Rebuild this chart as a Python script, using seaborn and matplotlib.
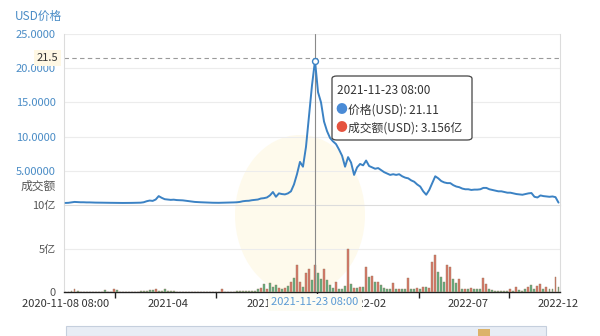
import numpy as np
import pandas as pd
import seaborn as sns
import matplotlib.pyplot as plt
from matplotlib.patches import FancyBboxPatch, Rectangle, Ellipse
from matplotlib.transforms import blended_transform_factory

# ---------------- data ----------------
price = [0.30, 0.32, 0.38, 0.45, 0.42, 0.40, 0.40, 0.38, 0.38, 0.36,
         0.35, 0.35, 0.34, 0.33, 0.33, 0.32, 0.32, 0.31, 0.30, 0.30,
         0.30, 0.30, 0.31, 0.32, 0.33, 0.34, 0.40, 0.55, 0.65, 0.60,
         0.80, 1.30, 1.05, 0.85, 0.80, 0.75, 0.78, 0.72, 0.70, 0.68,
         0.62, 0.55, 0.50, 0.45, 0.42, 0.40, 0.38, 0.36, 0.34, 0.33,
         0.32, 0.32, 0.33, 0.34, 0.35, 0.36, 0.38, 0.40, 0.45, 0.55,
         0.60, 0.62, 0.70, 0.75, 0.80, 0.95, 1.00, 1.10, 1.40, 1.90,
         1.20, 1.70, 1.60, 1.55, 1.70, 2.00, 3.00, 4.50, 6.30, 5.60,
         8.50, 13.00, 17.50, 21.11, 16.50, 15.00, 12.20, 10.80, 9.80, 9.30,
         8.90, 8.10, 7.20, 5.60, 7.00, 6.20, 4.40, 5.50, 6.00, 5.80,
         6.50, 5.70, 5.50, 5.30, 5.40, 5.10, 4.80, 4.60, 4.40, 4.50,
         4.40, 4.50, 4.20, 4.00, 3.90, 3.60, 3.40, 3.00, 2.70, 2.00,
         1.50, 2.20, 3.20, 4.20, 3.90, 3.50, 3.30, 3.20, 3.20, 2.90,
         2.70, 2.60, 2.40, 2.30, 2.30, 2.20, 2.25, 2.25, 2.30, 2.50,
         2.50, 2.30, 2.20, 2.10, 2.00, 2.00, 1.90, 1.80, 1.80, 1.70,
         1.60, 1.55, 1.50, 1.60, 1.70, 1.75, 1.20, 1.10, 1.40, 1.30,
         1.25, 1.20, 1.25, 1.15, 0.35]

# trading volume, in 亿 USD
volume = [0.05, 0.05, 0.08, 0.30, 0.06, 0.05, 0.05, 0.04, 0.05, 0.04,
          0.04, 0.05, 0.05, 0.20, 0.05, 0.05, 0.30, 0.25, 0.05, 0.04,
          0.04, 0.04, 0.05, 0.05, 0.05, 0.06, 0.08, 0.10, 0.20, 0.25,
          0.30, 0.12, 0.10, 0.30, 0.08, 0.06, 0.06, 0.05, 0.05, 0.05,
          0.05, 0.04, 0.04, 0.04, 0.04, 0.04, 0.04, 0.04, 0.04, 0.04,
          0.04, 0.05, 0.30, 0.05, 0.05, 0.05, 0.05, 0.06, 0.08, 0.10,
          0.10, 0.10, 0.12, 0.15, 0.30, 0.50, 0.90, 0.40, 1.00, 0.60,
          0.80, 0.50, 0.40, 0.50, 0.70, 1.20, 1.60, 3.10, 1.20, 0.60,
          2.20, 2.60, 1.40, 3.156, 2.20, 1.50, 2.60, 1.40, 0.80, 0.50,
          1.10, 0.40, 0.40, 0.70, 4.90, 0.90, 0.50, 0.50, 0.60, 0.55,
          2.90, 1.70, 1.80, 1.10, 1.10, 0.80, 0.50, 0.30, 0.30, 1.00,
          0.40, 0.30, 0.30, 0.40, 1.60, 0.30, 0.30, 0.50, 0.40, 0.60,
          0.60, 0.50, 3.40, 4.30, 2.30, 1.70, 1.20, 3.10, 2.90, 1.50,
          1.00, 1.50, 0.40, 0.30, 0.30, 0.50, 0.30, 0.35, 0.40, 1.60,
          0.90, 0.30, 0.25, 0.15, 0.15, 0.10, 0.10, 0.15, 0.30, 0.15,
          0.60, 0.20, 0.15, 0.30, 0.60, 0.80, 0.40, 0.70, 0.90, 0.30,
          0.60, 0.30, 0.40, 1.70, 0.60]

# bars drawn in the "up" (red) colour
up_bars = [3, 16, 30, 52, 65, 67, 71, 73, 75, 77, 78, 80, 81, 83, 86, 90,
           94, 96, 98, 100, 102, 104, 109, 111, 114, 117, 119, 121, 122, 123,
           127, 128, 131, 133, 135, 139, 140, 148, 150, 154, 157, 158, 160, 163]

x_tick_labels = ["2020-11-08 08:00", "2021-04", "2021-09", "2022-02", "2022-07", "2022-12"]
x_tick_index = [0, 34, 67, 100, 134, 164]
x_mark_index = [16.5, 50.2, 83.8, 117.5, 147.5]

price_ticks = [5, 10, 15, 20, 25]
price_tick_labels = ["5.00000", "10.0000", "15.0000", "20.0000", "25.0000"]
vol_ticks = [0, 5, 10]
vol_tick_labels = ["0", "5亿", "10亿"]

hover_index = 83
hover_date = "2021-11-23 08:00"
hover_price_label = "价格(USD): 21.11"
hover_vol_label = "成交额(USD): 3.156亿"
marker_level = 21.5

# ---------------- style ----------------
sns.set_theme(style="white")
plt.rcParams['font.family'] = ['Noto Sans CJK SC', 'DejaVu Sans']

BLUE = '#3b82c4'
RED = '#ec6a55'
GREEN = '#4fbf80'
GRID = '#ececec'

n = len(price)
df = pd.DataFrame({
    'i': np.arange(n),
    'price': price,
    'vol': volume,
    'dir': ['up' if k in up_bars else 'down' for k in range(n)],
})

fig = plt.figure(figsize=(6, 3.36), dpi=100)
W, H = 600, 336

# very faint watermark behind the plot
fig.patches.append(Ellipse((300 / W, 1 - 215 / H), 130 / W, 160 / H,
                           transform=fig.transFigure, facecolor='#fefaec',
                           edgecolor='none', zorder=-5))

ax1 = fig.add_axes([64 / W, 1 - 205 / H, 496 / W, 171 / H], zorder=2)
ax2 = fig.add_axes([64 / W, 1 - 292 / H, 496 / W, 87 / H], zorder=2)
for a in (ax1, ax2):
    a.set_facecolor('none')

# price panel
sns.lineplot(data=df, x='i', y='price', ax=ax1, color=BLUE, lw=1.4, zorder=3)
ax1.set_xlim(-0.5, n - 0.5)
ax1.set_ylim(0, 25)
ax1.set_yticks(price_ticks)
ax1.set_yticklabels(price_tick_labels)
ax1.tick_params(axis='y', length=0, pad=6, labelsize=8, labelcolor='#4a8cc6')
ax1.set_xticks([])
ax1.set_xlabel('')
ax1.set_ylabel('')
for yv in price_ticks:
    ax1.axhline(yv, color=GRID, lw=0.8, zorder=0)
for s in ['top', 'bottom']:
    ax1.spines[s].set_visible(False)
for s in ['left', 'right']:
    ax1.spines[s].set_color('#dcdcdc')
    ax1.spines[s].set_linewidth(0.8)

# dashed level line + label
ax1.axhline(marker_level, color='#9a9a9a', lw=0.8, ls=(0, (4, 3)), zorder=2)
tr = blended_transform_factory(ax1.transAxes, ax1.transData)
ax1.text(-0.012, marker_level, f"{marker_level}", transform=tr, ha='right',
         va='center', fontsize=8, color='#333333', zorder=6,
         bbox=dict(boxstyle='square,pad=0.25', facecolor='#fff8e4', edgecolor='none'))

# hover marker and pointer line
ax1.axvline(hover_index, color='#8a8a8a', lw=0.8, zorder=2)
ax1.scatter([hover_index], [price[hover_index]], s=18, facecolor='white',
            edgecolor=BLUE, linewidth=1.0, zorder=5)

# volume panel
sns.barplot(data=df, x='i', y='vol', hue='dir', dodge=False,
            palette={'up': RED, 'down': GREEN}, width=0.65, native_scale=True,
            legend=False, ax=ax2, linewidth=0.3, edgecolor='#9a7a60', zorder=3)
ax2.set_xlim(-0.5, n - 0.5)
ax2.set_ylim(0, 10)
ax2.set_yticks(vol_ticks)
ax2.set_yticklabels(vol_tick_labels)
ax2.tick_params(axis='y', length=0, pad=6, labelsize=8, labelcolor='#555555')
ax2.set_xlabel('')
ax2.set_ylabel('')
ax2.axhline(5, color=GRID, lw=0.8, zorder=0)
ax2.axvline(hover_index, color='#8a8a8a', lw=0.8, zorder=4)
ax2.set_xticks(x_tick_index)
ax2.set_xticklabels(x_tick_labels)
ax2.set_xticks(x_mark_index, minor=True)
ax2.tick_params(axis='x', which='major', length=0, pad=5, labelsize=8, labelcolor='#333333')
ax2.tick_params(axis='x', which='minor', length=4, width=1, color='#222222', direction='out', bottom=True)
ax2.spines['bottom'].set_color('#222222')
ax2.spines['bottom'].set_linewidth(1.0)
ax2.spines['top'].set_color('#dcdcdc')
ax2.spines['top'].set_linewidth(0.8)
for s in ['left', 'right']:
    ax2.spines[s].set_color('#dcdcdc')
    ax2.spines[s].set_linewidth(0.8)

# pointer label on x axis (covers part of neighbouring tick labels, as in the source)
trx = blended_transform_factory(ax2.transData, ax2.transAxes)
ax2.text(hover_index, -0.12, hover_date, transform=trx, ha='center', va='center',
         fontsize=8, color='#5b9bd5', zorder=10, clip_on=False,
         bbox=dict(boxstyle='square,pad=0.3', facecolor='#fdfcf4', edgecolor='none'))

# axis names
fig.text(38 / W, 1 - 16 / H, "USD价格", ha='center', va='center', fontsize=8.5, color='#4a8cc6')
fig.text(38 / W, 1 - 186 / H, "成交额", ha='center', va='center', fontsize=8.5, color='#555555')

# tooltip
tip = FancyBboxPatch((332 / W, 1 - 140 / H), 140 / W, 64 / H,
                     boxstyle='round,pad=0,rounding_size=0.008',
                     transform=fig.transFigure, facecolor='white',
                     edgecolor='#444444', linewidth=0.9, zorder=20)
fig.patches.append(tip)
fig.text(337 / W, 1 - 91 / H, hover_date, fontsize=8.5, color='#333333', va='center', zorder=21)
fig.text(341 / W, 1 - 110 / H, "●", fontsize=8.5, color='#4a8bd6', va='center', ha='center', zorder=21)
fig.text(348 / W, 1 - 110 / H, hover_price_label, fontsize=8.5, color='#333333', va='center', zorder=21)
fig.text(341 / W, 1 - 128 / H, "●", fontsize=8.5, color='#e5533f', va='center', ha='center', zorder=21)
fig.text(348 / W, 1 - 128 / H, hover_vol_label, fontsize=8.5, color='#333333', va='center', zorder=21)

# data-zoom slider at bottom
fig.patches.append(Rectangle((66 / W, 0), 480 / W, 10 / H, transform=fig.transFigure,
                             facecolor='#e8edf5', edgecolor='#c5cfdd', linewidth=0.8, zorder=1))
fig.patches.append(Rectangle((478 / W, 0), 12 / W, 7 / H, transform=fig.transFigure,
                             facecolor='#dcb36a', edgecolor='none', zorder=2))

fig.savefig('out.png', dpi=100)
